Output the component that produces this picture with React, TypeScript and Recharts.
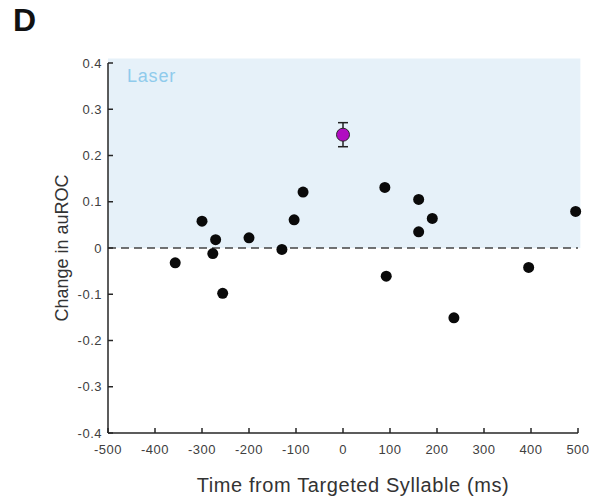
import React from 'react';
import {
  ScatterChart, Scatter, XAxis, YAxis, ReferenceArea, ReferenceLine, ErrorBar,
} from 'recharts';

const timesMs = [-357, -300, -271, -277, -256, -200, -130, -104, -85, 89, 92, 161, 161, 190, 236, 395, 495];
const auRocChange = [-0.032, 0.058, 0.018, -0.012, -0.098, 0.022, -0.003, 0.061, 0.121, 0.131, -0.061, 0.105, 0.035, 0.064, -0.151, -0.042, 0.079];

const meanTime = [0];
const meanChange = [0.245];
const meanError = [0.026];

const xTicks = [-500, -400, -300, -200, -100, 0, 100, 200, 300, 400, 500];
const yTicks = [-0.4, -0.3, -0.2, -0.1, 0, 0.1, 0.2, 0.3, 0.4];

const xTitle = 'Time from Targeted Syllable (ms)';
const yTitle = 'Change in auROC';
const shadeLabel = 'Laser';
const panelLabel = 'D';

const points = timesMs.map((t, i) => ({ t, v: auRocChange[i] }));
const meanPoints = meanTime.map((t, i) => ({ t, v: meanChange[i], err: meanError[i] }));

const axisColor = '#262626';
const tickStyle = { fontSize: 13, fill: '#404040', letterSpacing: 0.5 };

const BlackDot = (props: any) => (
  <circle cx={props.cx} cy={props.cy} r={5.5} fill="#0a0a0a" />
);
const PurpleDot = (props: any) => (
  <circle cx={props.cx} cy={props.cy} r={6.5} fill="#b10cc1" stroke="#2a2a2a" strokeWidth={1} />
);

export default function App() {
  return (
    <div style={{ position: 'absolute', left: 0, top: 0, width: 601, height: 499, background: '#fff', fontFamily: '"Liberation Sans", Arial, sans-serif' }}>
      <div style={{ position: 'absolute', left: 13, top: 2, fontSize: 32, fontWeight: 'bold', color: '#111' }}>{panelLabel}</div>
      <ScatterChart width={601} height={499} margin={{ top: 63, right: 23, bottom: 0, left: 0 }}>
        <ReferenceArea x1={-500} x2={505} y1={0} y2={0.41} fill="#e6f1f9" fillOpacity={1} stroke="none" ifOverflow="visible"
          label={{ value: shadeLabel, position: 'insideTopLeft', offset: 0, dx: 19, dy: 11, fill: '#8fcbec', fontSize: 18, letterSpacing: 0.8 }} />
        <ReferenceLine y={0} stroke="#444" strokeWidth={1.5} strokeDasharray="8 5" />
        <XAxis type="number" dataKey="t" domain={[-500, 500]} ticks={xTicks} height={66}
          axisLine={{ stroke: axisColor, strokeWidth: 1.5 }} tickLine={{ stroke: axisColor, strokeWidth: 1.5 }}
          tickSize={-5} tickMargin={17} tick={tickStyle} interval={0}
          label={{ value: xTitle, position: 'center', dx: 10, dy: 19, fontSize: 20, fill: '#333', letterSpacing: 0.6 }} />
        <YAxis type="number" dataKey="v" domain={[-0.4, 0.4]} ticks={yTicks} width={108}
          axisLine={{ stroke: axisColor, strokeWidth: 1.5 }} tickLine={{ stroke: axisColor, strokeWidth: 1.5 }}
          tickSize={-5} tickMargin={11} tick={tickStyle} interval={0} tickFormatter={(v: number) => String(v)}
          label={{ value: yTitle, position: 'center', angle: -90, dx: 8, fontSize: 18, fill: '#333' }} />
        <Scatter data={points} shape={BlackDot} isAnimationActive={false} />
        <Scatter data={meanPoints} shape={PurpleDot} isAnimationActive={false}>
          <ErrorBar dataKey="err" direction="y" width={5} stroke="#222" strokeWidth={1.5} />
        </Scatter>
      </ScatterChart>
    </div>
  );
}
